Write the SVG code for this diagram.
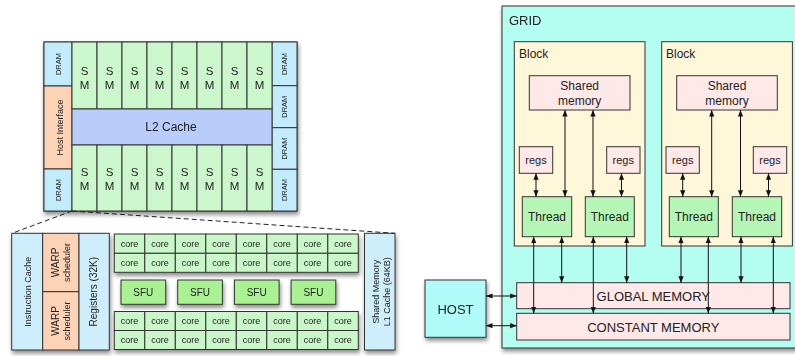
<svg xmlns="http://www.w3.org/2000/svg" width="795" height="356" viewBox="0 0 795 356">
<defs>
<filter id="sh" x="-10%" y="-10%" width="130%" height="130%">
<feGaussianBlur in="SourceAlpha" stdDeviation="2"/>
<feOffset dx="1" dy="3" result="b"/>
<feComponentTransfer><feFuncA type="linear" slope="0.45"/></feComponentTransfer>
<feMerge><feMergeNode/><feMergeNode in="SourceGraphic"/></feMerge>
</filter>
<marker id="ah" viewBox="0 0 10 10" refX="10" refY="5" markerWidth="6.5" markerHeight="6.5" orient="auto-start-reverse" markerUnits="userSpaceOnUse">
<path d="M0,1 L10,5 L0,9 z" fill="#111"/>
</marker>
<style>
text{font-family:"Liberation Sans",Arial,sans-serif;fill:#222}
.bx{stroke:#333;stroke-width:1}
.dram{fill:#c2ecfb}
.peach{fill:#fcd3b6}
.sm{fill:#ccf7cd}
.l2{fill:#b9cdfd}
.core{fill:#c9f7c9}
.sfu{fill:#a9f193}
.lb{fill:#cfeefc}
.grid{fill:#b3fdf1}
.blk{fill:#fff7da}
.pink{fill:#ffe8e8}
.thr{fill:#b5f5b5}
.host{fill:#b0fbf9}
.t7{font-size:7.5px}
.t9{font-size:9px}
.t10{font-size:10px}
.t11{font-size:11px}
.sm-t{font-size:11.5px}
.t12{font-size:12px}
.t13{font-size:13px}
.c{text-anchor:middle}
.arr{stroke:#111;stroke-width:1;fill:none;marker-start:url(#ah);marker-end:url(#ah)}
.dash{stroke:#222;stroke-width:1;stroke-dasharray:5,3;fill:none}
</style>
</defs>

<!-- GPU chip -->
<g id="chip" filter="url(#sh)">
<rect class="bx" x="44" y="42" width="253" height="169" fill="#fff"/>
<g id="dram-l1"><rect class="bx dram" x="44" y="42" width="28" height="44"/><text class="t7 c" transform="translate(61,64) rotate(-90)">DRAM</text></g>
<g id="host-interface"><rect class="bx peach" x="44" y="86" width="28" height="83"/><text class="t9 c" transform="translate(63,127.5) rotate(-90)">Host Interface</text></g>
<g id="dram-l2"><rect class="bx dram" x="44" y="169" width="28" height="42"/><text class="t7 c" transform="translate(61,190) rotate(-90)">DRAM</text></g>
<g id="dram-r1"><rect class="bx dram" x="272" y="42" width="25" height="43.7"/><text class="t7 c" transform="translate(287,64) rotate(-90)">DRAM</text></g>
<g id="dram-r2"><rect class="bx dram" x="272" y="85.7" width="25" height="42"/><text class="t7 c" transform="translate(287,106.7) rotate(-90)">DRAM</text></g>
<g id="dram-r3"><rect class="bx dram" x="272" y="127.7" width="25" height="41.6"/><text class="t7 c" transform="translate(287,148.5) rotate(-90)">DRAM</text></g>
<g id="dram-r4"><rect class="bx dram" x="272" y="169.3" width="25" height="41.7"/><text class="t7 c" transform="translate(287,190) rotate(-90)">DRAM</text></g>
<g id="sm-top">
<rect class="bx sm" x="72" y="42" width="25" height="67"/><rect class="bx sm" x="97" y="42" width="25" height="67"/><rect class="bx sm" x="122" y="42" width="25" height="67"/><rect class="bx sm" x="147" y="42" width="25" height="67"/><rect class="bx sm" x="172" y="42" width="25" height="67"/><rect class="bx sm" x="197" y="42" width="25" height="67"/><rect class="bx sm" x="222" y="42" width="25" height="67"/><rect class="bx sm" x="247" y="42" width="25" height="67"/>
<text class="sm-t c" x="84.5" y="75">S</text><text class="sm-t c" x="109.5" y="75">S</text><text class="sm-t c" x="134.5" y="75">S</text><text class="sm-t c" x="159.5" y="75">S</text><text class="sm-t c" x="184.5" y="75">S</text><text class="sm-t c" x="209.5" y="75">S</text><text class="sm-t c" x="234.5" y="75">S</text><text class="sm-t c" x="259.5" y="75">S</text>
<text class="sm-t c" x="84.5" y="88.5">M</text><text class="sm-t c" x="109.5" y="88.5">M</text><text class="sm-t c" x="134.5" y="88.5">M</text><text class="sm-t c" x="159.5" y="88.5">M</text><text class="sm-t c" x="184.5" y="88.5">M</text><text class="sm-t c" x="209.5" y="88.5">M</text><text class="sm-t c" x="234.5" y="88.5">M</text><text class="sm-t c" x="259.5" y="88.5">M</text>
</g>
<g id="l2-cache"><rect class="bx l2" x="72" y="109" width="200" height="36"/><text class="t12 c" x="171" y="131">L2 Cache</text></g>
<g id="sm-bottom">
<rect class="bx sm" x="72" y="145" width="25" height="66"/><rect class="bx sm" x="97" y="145" width="25" height="66"/><rect class="bx sm" x="122" y="145" width="25" height="66"/><rect class="bx sm" x="147" y="145" width="25" height="66"/><rect class="bx sm" x="172" y="145" width="25" height="66"/><rect class="bx sm" x="197" y="145" width="25" height="66"/><rect class="bx sm" x="222" y="145" width="25" height="66"/><rect class="bx sm" x="247" y="145" width="25" height="66"/>
<text class="sm-t c" x="84.5" y="175.5">S</text><text class="sm-t c" x="109.5" y="175.5">S</text><text class="sm-t c" x="134.5" y="175.5">S</text><text class="sm-t c" x="159.5" y="175.5">S</text><text class="sm-t c" x="184.5" y="175.5">S</text><text class="sm-t c" x="209.5" y="175.5">S</text><text class="sm-t c" x="234.5" y="175.5">S</text><text class="sm-t c" x="259.5" y="175.5">S</text>
<text class="sm-t c" x="84.5" y="190">M</text><text class="sm-t c" x="109.5" y="190">M</text><text class="sm-t c" x="134.5" y="190">M</text><text class="sm-t c" x="159.5" y="190">M</text><text class="sm-t c" x="184.5" y="190">M</text><text class="sm-t c" x="209.5" y="190">M</text><text class="sm-t c" x="234.5" y="190">M</text><text class="sm-t c" x="259.5" y="190">M</text>
</g>
</g>

<!-- SM detail -->
<g id="sm-detail-left" filter="url(#sh)">
<g id="instruction-cache"><rect class="bx lb" x="11.7" y="233.3" width="31" height="116.7"/><text class="t9 c" transform="translate(31,291.7) rotate(-90)">Instruction Cache</text></g>
<g id="warp-1"><rect class="bx peach" x="42.7" y="233.3" width="36.3" height="58.4"/><text class="t10 c" transform="translate(59,262.5) rotate(-90)">WARP</text><text class="t9 c" transform="translate(70,262.5) rotate(-90)">scheduler</text></g>
<g id="warp-2"><rect class="bx peach" x="42.7" y="291.7" width="36.3" height="58.3"/><text class="t10 c" transform="translate(59,321) rotate(-90)">WARP</text><text class="t9 c" transform="translate(70,321) rotate(-90)">scheduler</text></g>
<g id="registers"><rect class="bx lb" x="79" y="233.3" width="30.3" height="116.7"/><text class="t10 c" transform="translate(97,291.7) rotate(-90)">Registers (32K)</text></g>
</g>
<g id="cores-top" filter="url(#sh)">
<rect class="bx core" x="114.3" y="234" width="30.5" height="19.3"/><rect class="bx core" x="144.8" y="234" width="30.5" height="19.3"/><rect class="bx core" x="175.3" y="234" width="30.5" height="19.3"/><rect class="bx core" x="205.8" y="234" width="30.5" height="19.3"/><rect class="bx core" x="236.3" y="234" width="30.5" height="19.3"/><rect class="bx core" x="266.8" y="234" width="30.5" height="19.3"/><rect class="bx core" x="297.3" y="234" width="30.5" height="19.3"/><rect class="bx core" x="327.8" y="234" width="30.5" height="19.3"/>
<rect class="bx core" x="114.3" y="253.3" width="30.5" height="19"/><rect class="bx core" x="144.8" y="253.3" width="30.5" height="19"/><rect class="bx core" x="175.3" y="253.3" width="30.5" height="19"/><rect class="bx core" x="205.8" y="253.3" width="30.5" height="19"/><rect class="bx core" x="236.3" y="253.3" width="30.5" height="19"/><rect class="bx core" x="266.8" y="253.3" width="30.5" height="19"/><rect class="bx core" x="297.3" y="253.3" width="30.5" height="19"/><rect class="bx core" x="327.8" y="253.3" width="30.5" height="19"/>
<text class="t9 c" x="129.5" y="246.8">core</text><text class="t9 c" x="160" y="246.8">core</text><text class="t9 c" x="190.5" y="246.8">core</text><text class="t9 c" x="221" y="246.8">core</text><text class="t9 c" x="251.5" y="246.8">core</text><text class="t9 c" x="282" y="246.8">core</text><text class="t9 c" x="312.5" y="246.8">core</text><text class="t9 c" x="343" y="246.8">core</text>
<text class="t9 c" x="129.5" y="266">core</text><text class="t9 c" x="160" y="266">core</text><text class="t9 c" x="190.5" y="266">core</text><text class="t9 c" x="221" y="266">core</text><text class="t9 c" x="251.5" y="266">core</text><text class="t9 c" x="282" y="266">core</text><text class="t9 c" x="312.5" y="266">core</text><text class="t9 c" x="343" y="266">core</text>
</g>
<g id="sfu-1" filter="url(#sh)"><rect class="bx sfu" x="121" y="280" width="44.7" height="24.3"/><text class="t10 c" x="143.3" y="296">SFU</text></g>
<g id="sfu-2" filter="url(#sh)"><rect class="bx sfu" x="177.7" y="280" width="44.7" height="24.3"/><text class="t10 c" x="200" y="296">SFU</text></g>
<g id="sfu-3" filter="url(#sh)"><rect class="bx sfu" x="234.4" y="280" width="44.7" height="24.3"/><text class="t10 c" x="256.7" y="296">SFU</text></g>
<g id="sfu-4" filter="url(#sh)"><rect class="bx sfu" x="291.1" y="280" width="44.7" height="24.3"/><text class="t10 c" x="313.4" y="296">SFU</text></g>
<g id="cores-bottom" filter="url(#sh)">
<rect class="bx core" x="114.3" y="311.5" width="30.5" height="19"/><rect class="bx core" x="144.8" y="311.5" width="30.5" height="19"/><rect class="bx core" x="175.3" y="311.5" width="30.5" height="19"/><rect class="bx core" x="205.8" y="311.5" width="30.5" height="19"/><rect class="bx core" x="236.3" y="311.5" width="30.5" height="19"/><rect class="bx core" x="266.8" y="311.5" width="30.5" height="19"/><rect class="bx core" x="297.3" y="311.5" width="30.5" height="19"/><rect class="bx core" x="327.8" y="311.5" width="30.5" height="19"/>
<rect class="bx core" x="114.3" y="330.5" width="30.5" height="19"/><rect class="bx core" x="144.8" y="330.5" width="30.5" height="19"/><rect class="bx core" x="175.3" y="330.5" width="30.5" height="19"/><rect class="bx core" x="205.8" y="330.5" width="30.5" height="19"/><rect class="bx core" x="236.3" y="330.5" width="30.5" height="19"/><rect class="bx core" x="266.8" y="330.5" width="30.5" height="19"/><rect class="bx core" x="297.3" y="330.5" width="30.5" height="19"/><rect class="bx core" x="327.8" y="330.5" width="30.5" height="19"/>
<text class="t9 c" x="129.5" y="324">core</text><text class="t9 c" x="160" y="324">core</text><text class="t9 c" x="190.5" y="324">core</text><text class="t9 c" x="221" y="324">core</text><text class="t9 c" x="251.5" y="324">core</text><text class="t9 c" x="282" y="324">core</text><text class="t9 c" x="312.5" y="324">core</text><text class="t9 c" x="343" y="324">core</text>
<text class="t9 c" x="129.5" y="343">core</text><text class="t9 c" x="160" y="343">core</text><text class="t9 c" x="190.5" y="343">core</text><text class="t9 c" x="221" y="343">core</text><text class="t9 c" x="251.5" y="343">core</text><text class="t9 c" x="282" y="343">core</text><text class="t9 c" x="312.5" y="343">core</text><text class="t9 c" x="343" y="343">core</text>
</g>
<g id="shared-l1" filter="url(#sh)"><rect class="bx lb" x="364.5" y="233.3" width="30.5" height="116.7"/><text class="t9 c" transform="translate(378.5,291.7) rotate(-90)">Shared Memory</text><text class="t9 c" transform="translate(390,291.7) rotate(-90)">L1 Cache (64KB)</text></g>

<!-- Grid -->
<g id="grid" filter="url(#sh)"><rect class="bx grid" x="502" y="6" width="300" height="342"/><text class="t13" x="509" y="24.5">GRID</text></g>
<g id="block-1"><rect class="bx blk" x="514.3" y="41.7" width="130.7" height="204.3"/><text class="t12" x="519" y="57.5">Block</text></g>
<g id="block-2"><rect class="bx blk" x="661.7" y="41.7" width="130.7" height="204.3"/><text class="t12" x="666" y="57.5">Block</text></g>
<g id="shmem-1"><rect class="bx pink" x="529.3" y="75.7" width="100.7" height="34.3"/><text class="t12 c" x="579.7" y="89.5">Shared</text><text class="t12 c" x="579.7" y="105">memory</text></g>
<g id="shmem-2"><rect class="bx pink" x="676.7" y="75.7" width="100.6" height="34.3"/><text class="t12 c" x="727" y="89.5">Shared</text><text class="t12 c" x="727" y="105">memory</text></g>
<g id="regs-1"><rect class="bx pink" x="519.3" y="146.7" width="33.4" height="26.6"/><text class="t11 c" x="536" y="164">regs</text></g>
<g id="regs-2"><rect class="bx pink" x="606.7" y="146.7" width="33.3" height="26.6"/><text class="t11 c" x="623.3" y="164">regs</text></g>
<g id="regs-3"><rect class="bx pink" x="666" y="146.7" width="33.3" height="26.6"/><text class="t11 c" x="682.7" y="164">regs</text></g>
<g id="regs-4"><rect class="bx pink" x="753.3" y="146.7" width="33.4" height="26.6"/><text class="t11 c" x="770" y="164">regs</text></g>
<g id="thread-1"><rect class="bx thr" x="522.3" y="196.7" width="49.4" height="40"/><text class="t12 c" x="547" y="221">Thread</text></g>
<g id="thread-2"><rect class="bx thr" x="585.3" y="196.7" width="49" height="40"/><text class="t12 c" x="609.8" y="221">Thread</text></g>
<g id="thread-3"><rect class="bx thr" x="669.3" y="196.7" width="49" height="40"/><text class="t12 c" x="693.8" y="221">Thread</text></g>
<g id="thread-4"><rect class="bx thr" x="732.3" y="196.7" width="49.4" height="40"/><text class="t12 c" x="757" y="221">Thread</text></g>
<g id="global-memory"><rect class="bx pink" x="516.7" y="282.7" width="273.3" height="26"/><text class="t13 c" x="653.3" y="300.5">GLOBAL MEMORY</text></g>
<g id="constant-memory"><rect class="bx pink" x="516.7" y="313.3" width="273.3" height="26.7"/><text class="t13 c" x="653.3" y="331.5">CONSTANT MEMORY</text></g>
<g id="host" filter="url(#sh)"><rect class="bx host" x="425" y="280" width="61" height="57.3"/><text class="t13 c" x="455.5" y="313.5">HOST</text></g>

<!-- Connectors -->
<g id="connectors">
<line class="dash" x1="72" y1="211" x2="12" y2="233.3"/>
<line class="dash" x1="72" y1="211" x2="395" y2="233.3"/>
<line class="arr" x1="536" y1="173.3" x2="536" y2="196.7"/>
<line class="arr" x1="621.5" y1="173.3" x2="621.5" y2="196.7"/>
<line class="arr" x1="682.7" y1="173.3" x2="682.7" y2="196.7"/>
<line class="arr" x1="768.5" y1="173.3" x2="768.5" y2="196.7"/>
<line class="arr" x1="565" y1="110" x2="565" y2="196.7"/>
<line class="arr" x1="593" y1="110" x2="593" y2="196.7"/>
<line class="arr" x1="711.7" y1="110" x2="711.7" y2="196.7"/>
<line class="arr" x1="740.5" y1="110" x2="740.5" y2="196.7"/>
<line class="arr" x1="533.7" y1="236.7" x2="533.7" y2="313.3"/>
<line class="arr" x1="561.7" y1="236.7" x2="561.7" y2="282.7"/>
<line class="arr" x1="593.3" y1="236.7" x2="593.3" y2="313.3"/>
<line class="arr" x1="626.7" y1="236.7" x2="626.7" y2="282.7"/>
<line class="arr" x1="681" y1="236.7" x2="681" y2="282.7"/>
<line class="arr" x1="708.3" y1="236.7" x2="708.3" y2="313.3"/>
<line class="arr" x1="741" y1="236.7" x2="741" y2="282.7"/>
<line class="arr" x1="773.3" y1="236.7" x2="773.3" y2="313.3"/>
<line class="arr" x1="486" y1="296" x2="516.7" y2="296"/>
<line class="arr" x1="486" y1="325.7" x2="516.7" y2="325.7"/>
</g>
</svg>
